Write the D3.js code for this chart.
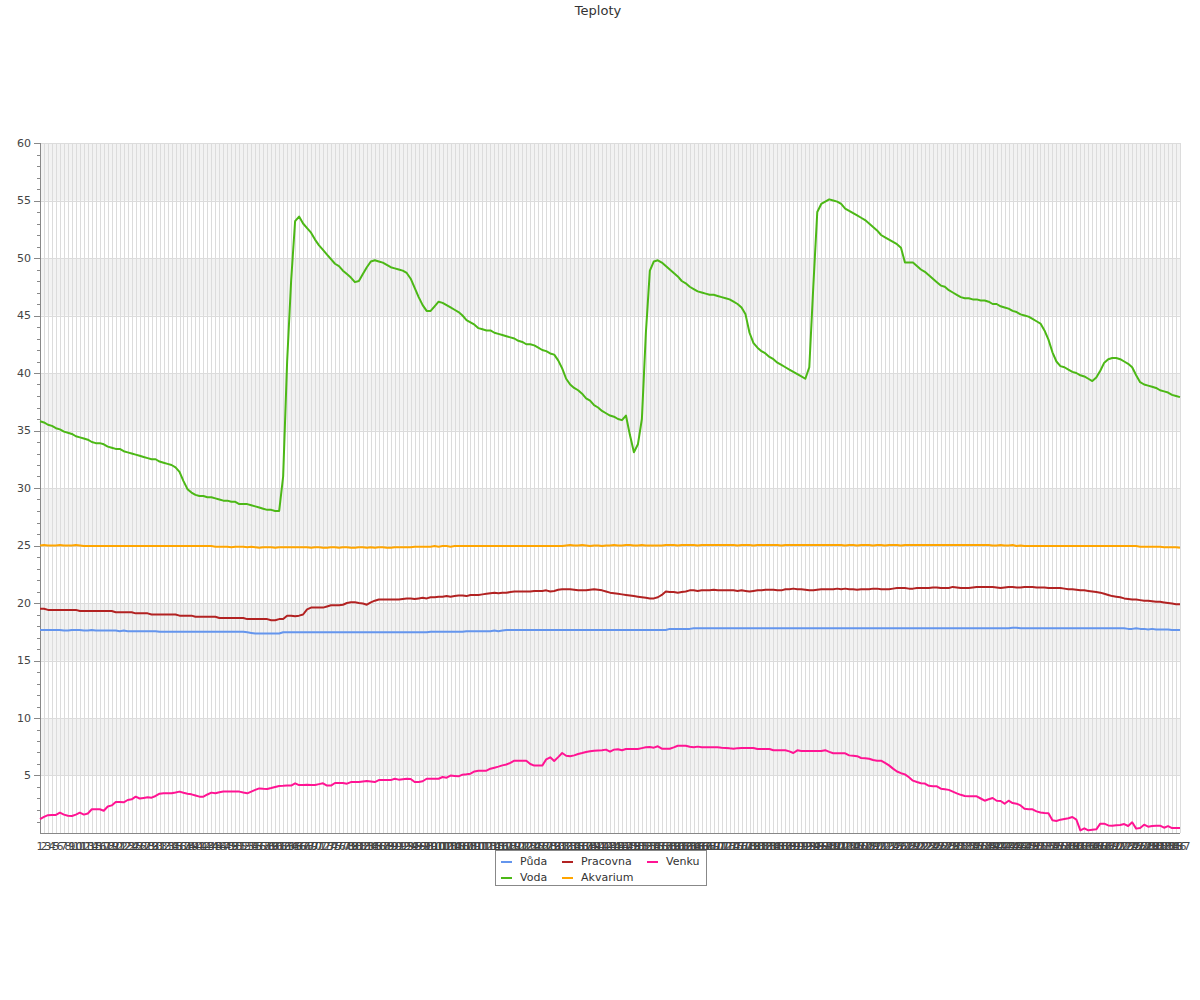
<!DOCTYPE html>
<html><head><meta charset="utf-8">
<script src="https://cdn.jsdelivr.net/npm/d3@7"></script>
<style>body{margin:0;background:#fff} text{font-family:"DejaVu Sans",sans-serif}</style>
</head><body>
<svg id="c" width="1200" height="1000"></svg>
<script>
const title = "Teploty";
const categories = d3.range(1, 288).map(String);
const yTicks = [5,10,15,20,25,30,35,40,45,50,55,60];
const seriesNames = ["Půda","Voda","Pracovna","Akvarium","Venku"];
const seriesColors = ["#6495ed","#4cb816","#b22222","#ffa500","#ff1493"];

const puda = [
17.65,17.65,17.65,17.65,17.65,17.65,17.6,17.6,17.65,17.65,
17.65,17.6,17.6,17.65,17.6,17.6,17.6,17.6,17.6,17.6,
17.55,17.6,17.55,17.55,17.55,17.55,17.55,17.55,17.55,17.55,
17.5,17.5,17.5,17.5,17.5,17.5,17.5,17.5,17.5,17.5,
17.5,17.5,17.5,17.5,17.5,17.5,17.5,17.5,17.5,17.5,
17.5,17.5,17.45,17.4,17.35,17.35,17.35,17.35,17.35,17.35,
17.35,17.45,17.45,17.45,17.45,17.45,17.45,17.45,17.45,17.45,
17.45,17.45,17.45,17.45,17.45,17.45,17.45,17.45,17.45,17.45,
17.45,17.45,17.45,17.45,17.45,17.45,17.45,17.45,17.45,17.45,
17.45,17.45,17.45,17.45,17.45,17.45,17.45,17.45,17.5,17.5,
17.5,17.5,17.5,17.5,17.5,17.5,17.5,17.55,17.55,17.55,
17.55,17.55,17.55,17.55,17.6,17.55,17.6,17.65,17.65,17.65,
17.65,17.65,17.65,17.65,17.65,17.65,17.65,17.65,17.65,17.65,
17.65,17.65,17.65,17.65,17.65,17.65,17.65,17.65,17.65,17.65,
17.65,17.65,17.65,17.65,17.65,17.65,17.65,17.65,17.65,17.65,
17.65,17.65,17.65,17.65,17.65,17.65,17.65,17.65,17.75,17.75,
17.75,17.75,17.75,17.75,17.8,17.8,17.8,17.8,17.8,17.8,
17.8,17.8,17.8,17.8,17.8,17.8,17.8,17.8,17.8,17.8,
17.8,17.8,17.8,17.8,17.8,17.8,17.8,17.8,17.8,17.8,
17.8,17.8,17.8,17.8,17.8,17.8,17.8,17.8,17.8,17.8,
17.8,17.8,17.8,17.8,17.8,17.8,17.8,17.8,17.8,17.8,
17.8,17.8,17.8,17.8,17.8,17.8,17.8,17.8,17.8,17.8,
17.8,17.8,17.8,17.8,17.8,17.8,17.8,17.8,17.8,17.8,
17.8,17.8,17.8,17.8,17.8,17.8,17.8,17.8,17.8,17.8,
17.8,17.8,17.8,17.8,17.85,17.85,17.8,17.8,17.8,17.8,
17.8,17.8,17.8,17.8,17.8,17.8,17.8,17.8,17.8,17.8,
17.8,17.8,17.8,17.8,17.8,17.8,17.8,17.8,17.8,17.8,
17.8,17.8,17.8,17.75,17.75,17.8,17.75,17.75,17.7,17.75,
17.7,17.7,17.7,17.7,17.65,17.65,17.65
];

const voda = [
35.8,35.7,35.5,35.4,35.2,35.1,34.9,34.8,34.7,34.5,
34.4,34.3,34.2,34.0,33.9,33.9,33.8,33.6,33.5,33.4,
33.4,33.2,33.1,33.0,32.9,32.8,32.7,32.6,32.5,32.5,
32.3,32.2,32.1,32.0,31.8,31.4,30.6,29.9,29.6,29.4,
29.3,29.3,29.2,29.2,29.1,29.0,28.9,28.9,28.8,28.8,
28.6,28.6,28.6,28.5,28.4,28.3,28.2,28.1,28.1,28.0,
28.0,31.0,41.0,48.0,53.2,53.6,53.0,52.6,52.2,51.6,
51.1,50.7,50.3,49.9,49.5,49.3,48.9,48.6,48.3,47.9,
48.0,48.6,49.2,49.7,49.8,49.7,49.6,49.4,49.2,49.1,
49.0,48.9,48.7,48.2,47.4,46.6,45.9,45.4,45.4,45.8,
46.2,46.1,45.9,45.7,45.5,45.3,45.0,44.6,44.4,44.2,
43.9,43.8,43.7,43.7,43.5,43.4,43.3,43.2,43.1,43.0,
42.8,42.7,42.5,42.5,42.4,42.2,42.0,41.9,41.7,41.6,
41.1,40.4,39.5,39.0,38.7,38.5,38.2,37.8,37.6,37.2,
37.0,36.7,36.5,36.3,36.2,36.0,35.9,36.3,34.6,33.1,
33.8,36.0,43.5,48.9,49.7,49.8,49.6,49.3,49.0,48.7,
48.4,48.0,47.8,47.5,47.3,47.1,47.0,46.9,46.8,46.8,
46.7,46.6,46.5,46.4,46.2,46.0,45.7,45.1,43.5,42.6,
42.2,41.9,41.7,41.4,41.2,40.9,40.7,40.5,40.3,40.1,
39.9,39.7,39.5,40.5,47.5,54.0,54.7,54.9,55.1,55.0,
54.9,54.7,54.3,54.1,53.9,53.7,53.5,53.3,53.0,52.7,
52.4,52.0,51.8,51.6,51.4,51.2,50.9,49.6,49.6,49.6,
49.3,49.0,48.8,48.5,48.2,47.9,47.6,47.5,47.2,47.0,
46.8,46.6,46.5,46.5,46.4,46.4,46.3,46.3,46.2,46.0,
46.0,45.8,45.7,45.6,45.4,45.3,45.1,45.0,44.9,44.7,
44.5,44.3,43.7,42.9,41.8,41.0,40.6,40.5,40.3,40.1,
40.0,39.8,39.7,39.5,39.3,39.6,40.2,40.9,41.2,41.3,
41.3,41.2,41.0,40.8,40.5,39.8,39.2,39.0,38.9,38.8,
38.7,38.5,38.4,38.3,38.1,38.0,37.9
];

const pracovna = [
19.5,19.5,19.4,19.4,19.4,19.4,19.4,19.4,19.4,19.4,
19.3,19.3,19.3,19.3,19.3,19.3,19.3,19.3,19.3,19.2,
19.2,19.2,19.2,19.2,19.1,19.1,19.1,19.1,19.0,19.0,
19.0,19.0,19.0,19.0,19.0,18.9,18.9,18.9,18.9,18.8,
18.8,18.8,18.8,18.8,18.8,18.7,18.7,18.7,18.7,18.7,
18.7,18.7,18.6,18.6,18.6,18.6,18.6,18.6,18.5,18.5,
18.6,18.6,18.9,18.9,18.85,18.9,19.0,19.45,19.6,19.6,
19.6,19.6,19.7,19.8,19.8,19.8,19.85,20.0,20.06,20.06,
20.0,19.95,19.85,20.05,20.2,20.3,20.3,20.3,20.3,20.3,
20.3,20.35,20.4,20.4,20.35,20.4,20.45,20.4,20.5,20.5,
20.55,20.55,20.6,20.55,20.6,20.65,20.65,20.6,20.7,20.7,
20.7,20.75,20.8,20.85,20.9,20.85,20.9,20.9,20.95,21.0,
21.0,21.0,21.0,21.0,21.05,21.05,21.05,21.1,21.0,21.05,
21.15,21.2,21.2,21.2,21.15,21.1,21.1,21.1,21.15,21.2,
21.15,21.1,21.0,20.9,20.85,20.8,20.75,20.7,20.65,20.6,
20.55,20.5,20.45,20.4,20.4,20.5,20.7,21.0,20.95,20.95,
20.9,20.95,21.0,21.1,21.1,21.05,21.1,21.1,21.1,21.15,
21.1,21.1,21.1,21.1,21.1,21.05,21.1,21.05,21.0,21.05,
21.1,21.1,21.15,21.15,21.15,21.1,21.1,21.2,21.2,21.25,
21.2,21.2,21.15,21.1,21.1,21.15,21.2,21.2,21.2,21.2,
21.25,21.2,21.25,21.2,21.2,21.15,21.2,21.2,21.2,21.25,
21.25,21.2,21.2,21.2,21.25,21.3,21.3,21.3,21.25,21.25,
21.3,21.3,21.3,21.3,21.35,21.35,21.3,21.3,21.3,21.4,
21.35,21.3,21.3,21.3,21.35,21.4,21.4,21.4,21.4,21.4,
21.35,21.3,21.35,21.4,21.4,21.35,21.35,21.4,21.4,21.4,
21.35,21.35,21.35,21.3,21.3,21.3,21.3,21.25,21.2,21.2,
21.15,21.1,21.1,21.05,21.0,20.95,20.9,20.8,20.7,20.6,
20.55,20.5,20.4,20.35,20.3,20.3,20.25,20.2,20.2,20.15,
20.1,20.1,20.05,20.0,19.95,19.9,19.9
];

const akvarium = [
25.0,25.05,25.0,25.0,25.0,25.05,25.0,25.0,25.0,25.05,
25.0,24.95,24.95,24.95,24.95,24.95,24.95,24.95,24.95,24.95,
24.95,24.95,24.95,24.95,24.95,24.95,24.95,24.95,24.95,24.95,
24.95,24.95,24.95,24.95,24.95,24.95,24.95,24.95,24.95,24.95,
24.95,24.95,24.95,24.95,24.9,24.9,24.9,24.9,24.85,24.9,
24.9,24.9,24.85,24.9,24.85,24.8,24.85,24.85,24.85,24.8,
24.85,24.85,24.85,24.85,24.85,24.85,24.85,24.85,24.8,24.85,
24.85,24.8,24.8,24.85,24.85,24.8,24.85,24.85,24.8,24.8,
24.85,24.85,24.8,24.85,24.8,24.85,24.85,24.8,24.8,24.85,
24.85,24.85,24.85,24.85,24.9,24.9,24.9,24.9,24.9,24.95,
24.9,24.95,24.95,24.9,24.95,24.95,24.95,24.95,24.95,24.95,
24.95,24.95,24.95,24.95,24.95,24.95,24.95,24.95,24.95,24.95,
24.95,24.95,24.95,24.95,24.95,24.95,24.95,24.95,24.95,24.95,
24.95,24.95,25.0,25.05,25.0,25.0,25.05,25.0,24.95,25.0,
25.0,24.95,25.0,25.0,25.05,25.0,25.0,25.05,25.05,25.0,
25.0,25.05,25.0,25.0,25.0,25.0,25.0,25.05,25.05,25.05,
25.0,25.05,25.05,25.05,25.05,25.0,25.05,25.05,25.05,25.05,
25.05,25.05,25.05,25.05,25.05,25.0,25.05,25.05,25.05,25.0,
25.05,25.05,25.05,25.05,25.05,25.05,25.0,25.05,25.05,25.05,
25.05,25.05,25.05,25.05,25.05,25.05,25.05,25.05,25.05,25.05,
25.05,25.05,25.0,25.05,25.05,25.0,25.05,25.05,25.05,25.0,
25.05,25.05,25.0,25.05,25.05,25.05,25.0,25.05,25.05,25.05,
25.05,25.05,25.05,25.05,25.05,25.05,25.05,25.05,25.05,25.05,
25.05,25.05,25.05,25.05,25.05,25.05,25.05,25.05,25.05,25.0,
25.0,25.05,25.0,25.0,25.05,24.95,25.0,24.95,24.95,24.95,
24.95,24.95,24.95,24.95,24.95,24.95,24.95,24.95,24.95,24.95,
24.95,24.95,24.95,24.95,24.95,24.95,24.95,24.95,24.95,24.95,
24.95,24.95,24.95,24.95,24.95,24.95,24.9,24.9,24.9,24.9,
24.9,24.9,24.85,24.85,24.85,24.85,24.8
];

const venku = [
1.2,1.4,1.55,1.57,1.57,1.77,1.6,1.5,1.48,1.6,
1.77,1.6,1.7,2.06,2.06,2.06,1.94,2.3,2.4,2.7,
2.7,2.67,2.87,2.93,3.16,3.0,3.05,3.1,3.07,3.22,
3.42,3.45,3.45,3.45,3.52,3.6,3.5,3.42,3.36,3.26,
3.16,3.16,3.35,3.51,3.45,3.54,3.6,3.6,3.6,3.6,
3.6,3.52,3.45,3.6,3.75,3.88,3.85,3.83,3.91,4.0,
4.09,4.1,4.12,4.12,4.32,4.17,4.18,4.2,4.18,4.17,
4.25,4.32,4.12,4.12,4.35,4.35,4.35,4.29,4.43,4.43,
4.43,4.48,4.52,4.48,4.43,4.6,4.6,4.6,4.6,4.72,
4.64,4.68,4.72,4.7,4.43,4.43,4.5,4.72,4.72,4.72,
4.72,4.87,4.81,4.99,4.96,4.93,5.07,5.1,5.16,5.35,
5.42,5.42,5.42,5.59,5.68,5.77,5.88,5.96,6.1,6.29,
6.29,6.29,6.29,6.0,5.86,5.86,5.86,6.4,6.58,6.26,
6.6,6.96,6.72,6.67,6.75,6.87,6.95,7.04,7.1,7.16,
7.18,7.19,7.25,7.07,7.25,7.28,7.19,7.3,7.3,7.3,
7.3,7.38,7.45,7.48,7.42,7.54,7.33,7.33,7.33,7.45,
7.59,7.59,7.59,7.5,7.45,7.51,7.45,7.45,7.45,7.45,
7.45,7.42,7.4,7.36,7.33,7.38,7.39,7.39,7.39,7.39,
7.3,7.3,7.3,7.3,7.19,7.19,7.19,7.19,7.1,6.96,
7.19,7.13,7.13,7.13,7.13,7.13,7.13,7.2,7.05,6.93,
6.93,6.93,6.93,6.75,6.72,6.68,6.52,6.49,6.45,6.35,
6.29,6.29,6.1,5.88,5.6,5.35,5.2,5.1,4.85,4.55,
4.43,4.32,4.3,4.1,4.06,4.06,3.85,3.8,3.75,3.6,
3.45,3.32,3.22,3.2,3.19,3.19,3.0,2.81,2.93,3.04,
2.8,2.78,2.55,2.81,2.6,2.55,2.4,2.1,2.06,2.06,
1.88,1.78,1.74,1.71,1.1,1.05,1.16,1.22,1.28,1.39,
1.16,0.23,0.41,0.23,0.28,0.32,0.81,0.81,0.66,0.64,
0.68,0.7,0.78,0.61,0.93,0.38,0.44,0.72,0.55,0.6,
0.62,0.64,0.46,0.6,0.43,0.43,0.43
];

const seriesData = [puda, voda, pracovna, akvarium, venku];

const svg = d3.select("#c");
const x = d3.scalePoint().domain(categories).range([40, 1180]);
const y = d3.scaleLinear().domain([0, 60]).range([833, 143]);

// Title
svg.append("text").attr("x", 598).attr("y", 15).attr("text-anchor", "middle")
  .attr("font-size", 13).attr("fill", "#333").text(title);

// Alternating bands
const bandStarts = d3.range(0, 60, 5);
svg.append("g").selectAll("rect").data(bandStarts.filter((d, i) => i % 2 === 1)).join("rect")
  .attr("x", 40).attr("width", 1140)
  .attr("y", d => y(d + 5)).attr("height", d => y(d) - y(d + 5))
  .attr("fill", "#f2f2f2");

// Vertical grid lines
svg.append("g").selectAll("line").data(categories.slice(1)).join("line")
  .attr("x1", d => Math.round(x(d)) + 0.5).attr("x2", d => Math.round(x(d)) + 0.5)
  .attr("y1", y(60)).attr("y2", y(0))
  .attr("stroke", "#dcdcdc").attr("stroke-width", 1);

// Horizontal grid lines
svg.append("g").selectAll("line").data(yTicks).join("line")
  .attr("x1", 40).attr("x2", 1180)
  .attr("y1", d => Math.round(y(d)) + 0.5).attr("y2", d => Math.round(y(d)) + 0.5)
  .attr("stroke", "#dcdcdc");

// Y axis
const yAxisG = svg.append("g");
yAxisG.append("line").attr("x1", 40.5).attr("x2", 40.5).attr("y1", y(60)).attr("y2", y(0)).attr("stroke", "#888");
yAxisG.selectAll("line.minor").data(d3.range(1, 60)).join("line").attr("class", "minor")
  .attr("x1", d => d % 5 === 0 ? 34 : 37).attr("x2", 40)
  .attr("y1", d => Math.round(y(d)) + 0.5).attr("y2", d => Math.round(y(d)) + 0.5)
  .attr("stroke", "#888");
yAxisG.append("line").attr("x1", 34).attr("x2", 40).attr("y1", Math.round(y(60)) + 0.5).attr("y2", Math.round(y(60)) + 0.5).attr("stroke", "#888");
yAxisG.selectAll("text").data(yTicks).join("text")
  .attr("x", 31).attr("y", d => y(d)).attr("dy", "0.35em")
  .attr("text-anchor", "end").attr("font-size", 11).attr("fill", "#444")
  .text(d => d);

// X axis
svg.append("line").attr("x1", 40).attr("x2", 1180).attr("y1", 833.5).attr("y2", 833.5).attr("stroke", "#888");
svg.append("g").selectAll("text").data(categories).join("text")
  .attr("x", d => x(d)).attr("y", 850).attr("text-anchor", "middle")
  .attr("font-size", 11).attr("fill", "#444").text(d => d);

// Lines
const line = d3.line().x((d, i) => x(categories[i])).y(d => y(d));
svg.append("g").selectAll("path").data(seriesData).join("path")
  .attr("d", d => line(d)).attr("fill", "none")
  .attr("stroke", (d, i) => seriesColors[i]).attr("stroke-width", 2)
  .attr("stroke-linejoin", "round");

// Legend
const lg = svg.append("g");
lg.append("rect").attr("x", 495.5).attr("y", 850.5).attr("width", 211).attr("height", 35)
  .attr("fill", "#fff").attr("stroke", "#888");
const colX = [501, 562, 647];
const rowY = [862, 878];
seriesNames.forEach((name, i) => {
  const col = Math.floor(i / 2), row = i % 2;
  lg.append("line").attr("x1", colX[col]).attr("x2", colX[col] + 11)
    .attr("y1", rowY[row]).attr("y2", rowY[row])
    .attr("stroke", seriesColors[i]).attr("stroke-width", 2);
  lg.append("text").attr("x", colX[col] + 19).attr("y", rowY[row] + 2.5)
    .attr("font-size", 11).attr("fill", "#333").text(name);
});
</script>
</body></html>
